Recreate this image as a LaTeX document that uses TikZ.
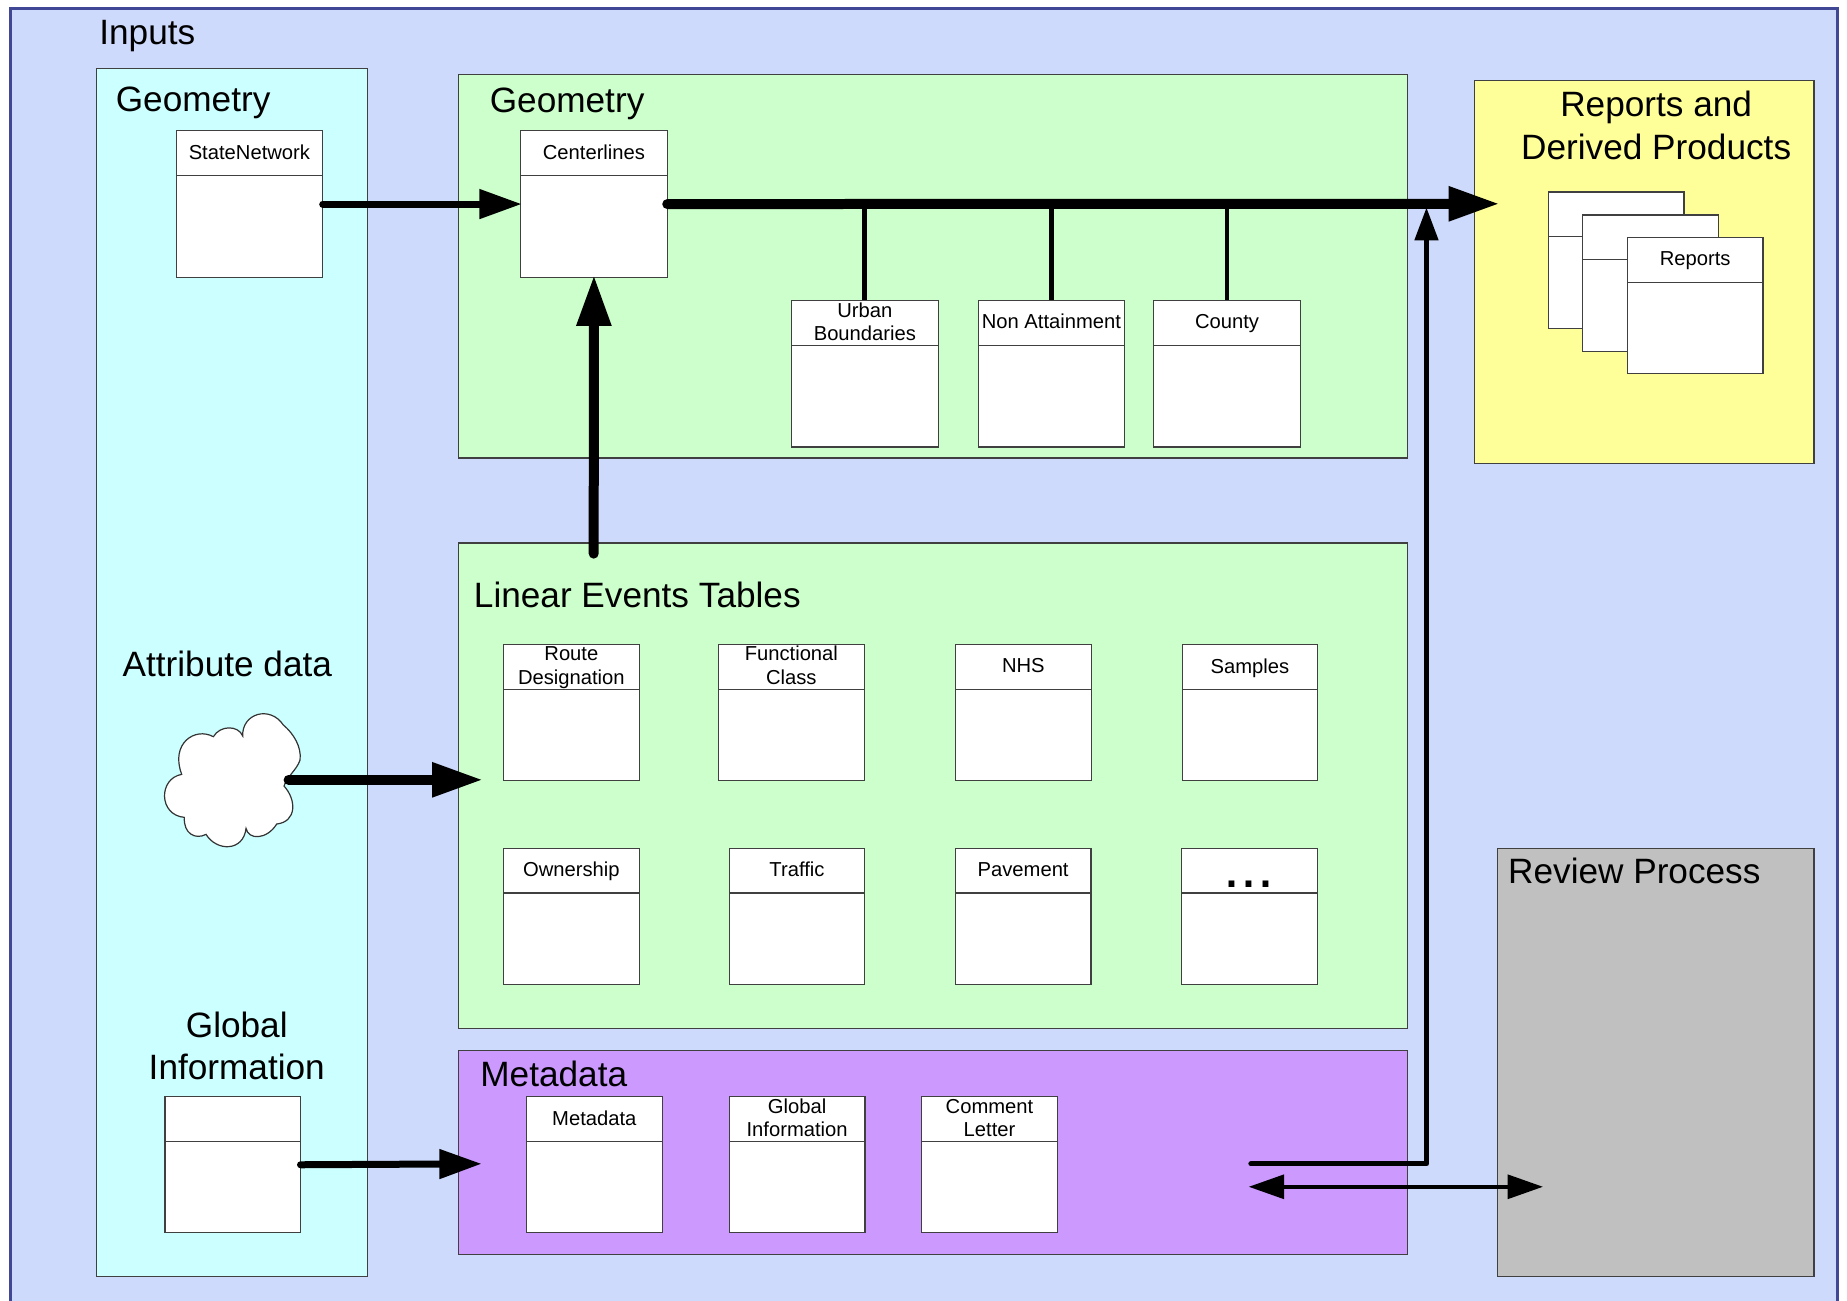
\documentclass[tikz,border=0pt]{standalone}
\usepackage{fontspec}
\setmainfont{Liberation Sans}
\usepackage{tikz}
\usetikzlibrary{arrows.meta,positioning}
\usepackage{xcolor}
\definecolor{dfframe}{RGB}{64,72,150}
\definecolor{dfback}{RGB}{206,218,252}
\definecolor{dfcyan}{RGB}{204,255,255}
\definecolor{dfgreen}{RGB}{204,255,204}
\definecolor{dfyellow}{RGB}{255,255,153}
\definecolor{dfpurple}{RGB}{204,153,255}
\definecolor{dfgray}{RGB}{192,192,192}
\tikzstyle{panel} = [rectangle, draw=black!75, line width=0.6pt, anchor=north west, outer sep=0pt, inner sep=0pt]
\tikzstyle{paneltitle} = [font=\fontsize{17.6}{21.2}\selectfont, align=center, inner sep=0pt]
\tikzstyle{classtitle} = [font=\fontsize{10.1}{11.8}\selectfont, align=center, anchor=center, inner sep=0pt, yshift=-10.6pt]
\tikzstyle{lowtitle} = [yshift=-1.2pt]
\tikzstyle{bigclass} = [rectangle, draw=black!75, fill=white, line width=0.6pt, outer sep=0pt, inner sep=0pt, minimum width=73.3pt, minimum height=73.3pt,
  path picture={\draw[black!75, line width=0.6pt] ([yshift=-22.4pt]path picture bounding box.north west) -- ([yshift=-22.4pt]path picture bounding box.north east);}]
\tikzstyle{smallclass} = [bigclass, minimum width=67.8pt, minimum height=68.1pt]
\tikzstyle{bigarrow} = [line width=5pt, line cap=round, shorten >=-1.2pt, -{Triangle[length=25.5pt,width=16.3pt]}]
\tikzstyle{midarrow} = [line width=3.5pt, line cap=round, shorten >=-0.6pt, -{Triangle[length=21.2pt,width=14.1pt]}]
\tikzstyle{thinarrow} = [line width=2.65pt, line cap=round, line join=round, -{Triangle[length=16.5pt,width=11.4pt]}]
\tikzstyle{twoarrow} = [line width=2.1pt, {Triangle[length=17.7pt,width=11.8pt]}-{Triangle[length=17.7pt,width=11.8pt]}]
\tikzstyle{droplink} = [line width=2.4pt]
\begin{document}
\begin{tikzpicture}[x=0.589pt,y=-0.589pt]
\useasboundingbox (0,0) rectangle (1568,1103.7);
% Panels
\node[panel, fill=dfback, draw=dfframe, line width=1.5pt, minimum width=914pt, minimum height=670pt] (frame) at (8.5,7) {};
\node[panel, fill=dfcyan, minimum width=135.5pt, minimum height=604.2pt] (inputs) at (82,58) {};
\node[panel, fill=dfgreen, minimum width=474.7pt, minimum height=191.9pt] (geompanel) at (389,63) {};
\node[panel, fill=dfyellow, minimum width=169.6pt, minimum height=191.9pt] (reportpanel) at (1252,68) {};
\node[panel, fill=dfgreen, minimum width=474.7pt, minimum height=242.7pt] (eventpanel) at (389,461) {};
\node[panel, fill=dfpurple, minimum width=474.7pt, minimum height=101.8pt] (metapanel) at (389,892) {};
\node[panel, fill=dfgray, minimum width=158.4pt, minimum height=214.3pt] (reviewpanel) at (1271,720) {};
% Titles
\node[paneltitle, anchor=west] (inputstitle) at (84,31) {Inputs};
\node[paneltitle, anchor=west] (geomtitlea) at (98,87) {Geometry};
\node[paneltitle, anchor=west] (geomtitleb) at (415.5,88) {Geometry};
\node[paneltitle] (reporttitle) at (1406,106.5) {Reports and\\Derived Products};
\node[paneltitle, anchor=west] (eventtitle) at (402,505) {Linear Events Tables};
\node[paneltitle] (attrtitle) at (193,564) {Attribute data};
\node[paneltitle] (globaltitle) at (201,888) {Global\\Information};
\node[paneltitle, anchor=west] (metatitle) at (407.5,912) {Metadata};
\node[paneltitle, anchor=west] (reviewtitle) at (1280,739) {Review Process};
% Geometry boxes
\node[bigclass, anchor=north west, label={[classtitle]north:StateNetwork}] (statenet) at (149.5,111) {};
\node[bigclass, anchor=north west, label={[classtitle]north:Centerlines}] (centerlines) at (442,111) {};
\node[bigclass, anchor=north west, label={[classtitle]north:Urban\\Boundaries}] (urban) at (672,255) {};
\node[bigclass, right=20pt of urban, label={[classtitle]north:Non Attainment}] (nonattain) {};
\node[bigclass, right=14.5pt of nonattain, label={[classtitle, lowtitle]north:County}] (county) {};
% Reports stack
\node[smallclass, anchor=north west] (reporta) at (1314.5,163) {};
\node[smallclass, anchor=north west] (reportb) at (1343.5,182.5) {};
\node[smallclass, anchor=north west, label={[classtitle, lowtitle]north:Reports}] (reportc) at (1381.5,201.5) {};
% Event tables
\node[smallclass, anchor=north west, label={[classtitle, lowtitle]north:Route\\Designation}] (route) at (427.5,547) {};
\node[smallclass, minimum width=73pt, right=39.6pt of route, label={[classtitle]north:Functional\\Class}] (functional) {};
\node[smallclass, right=45.6pt of functional, label={[classtitle]north:NHS}] (nhs) {};
\node[smallclass, right=45.5pt of nhs, label={[classtitle, lowtitle]north:Samples}] (samples) {};
\node[smallclass, below=33.8pt of route, label={[classtitle, lowtitle]north:Ownership}] (ownership) {};
\node[smallclass, right=45pt of ownership, label={[classtitle]north:Traffic}] (traffic) {};
\node[smallclass, right=45.3pt of traffic, label={[classtitle]north:Pavement}] (pavement) {};
\node[smallclass, right=45.3pt of pavement, label={[classtitle, font=\fontsize{30.5}{30.5}\selectfont, yshift=-7.7pt]north:...}] (moretables) {};
% Metadata boxes
\node[smallclass, anchor=north west] (globalinput) at (140,931) {};
\node[smallclass, anchor=north west, label={[classtitle]north:Metadata}] (metadata) at (447,931) {};
\node[smallclass, right=33.6pt of metadata, label={[classtitle]north:Global\\Information}] (globalinfo) {};
\node[smallclass, right=28.4pt of globalinfo, label={[classtitle]north:Comment\\Letter}] (comment) {};
% Cloud
\begin{scope}[shift={(101.9,577.3)}, scale=0.283]
\draw[fill=white, draw=black!80, line width=0.6pt] (185,283) .. controls (150,190) and (225,140) .. (280,170)
  .. controls (300,135) and (355,135) .. (368,168)
  .. controls (365,100) and (450,75) .. (490,135)
  .. controls (520,160) and (545,200) .. (540,240)
  .. controls (530,270) and (500,290) .. (492,318)
  .. controls (530,360) and (530,425) .. (470,432)
  .. controls (440,480) and (385,480) .. (378,445)
  .. controls (370,515) and (290,515) .. (258,463)
  .. controls (225,480) and (190,460) .. (193,412)
  .. controls (115,405) and (115,295) .. (185,283) -- cycle;
\end{scope}
% Free ends
\coordinate (cloudout) at (245,662);
\coordinate (attrin) at (408,662);
\coordinate (globalin) at (408,988);
\coordinate (eventout) at (504,470);
\coordinate (reportin) at (1271,173);
\coordinate (metaout) at (1062,988);
\coordinate (barjoin) at (1211,176);
\coordinate (reviewleft) at (1060,1007.5);
\coordinate (reviewright) at (1310,1007.5);
% Flow
\draw[droplink] (urban.north) -- (urban.north |- centerlines.east);
\draw[droplink] (nonattain.north) -- (nonattain.north |- centerlines.east);
\draw[droplink] (county.north) -- (county.north |- centerlines.east);
\draw[midarrow] (statenet.east) -- (centerlines.west);
\draw[bigarrow] (centerlines.east) -- (reportin);
\draw[bigarrow] (eventout) -- (centerlines.south);
\draw[bigarrow] (cloudout) -- (attrin);
\draw[midarrow] (globalinput.east) -- (globalin);
\draw[thinarrow] (metaout) -| (barjoin);
\draw[twoarrow] (reviewleft) -- (reviewright);
\end{tikzpicture}
\end{document}
